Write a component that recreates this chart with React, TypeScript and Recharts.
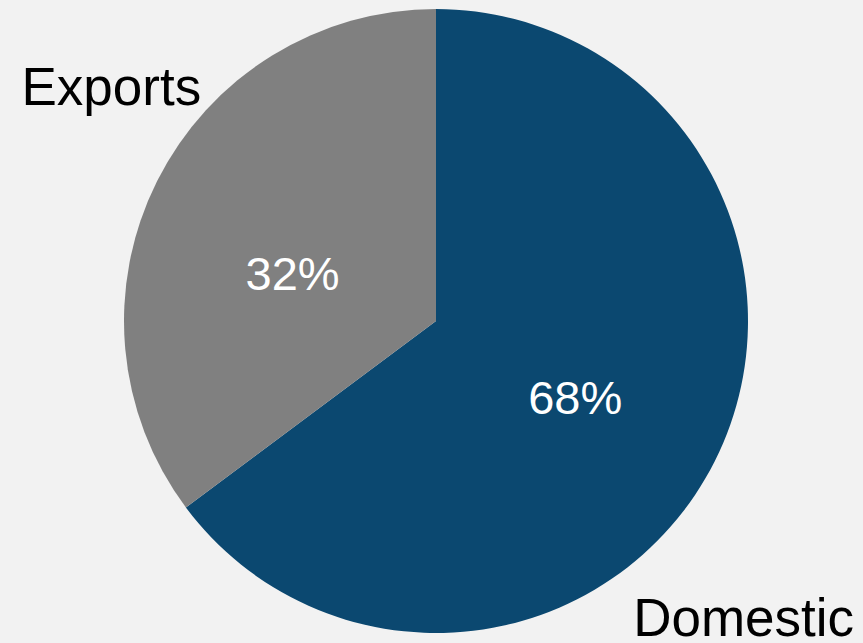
import { PieChart, Pie, Cell } from 'recharts'

// slice sizes as drawn (the printed labels are rounded differently in the source)
const categories = ['Domestic', 'Exports']
const shares = [64.8, 35.2]
const percentLabels = ['68%', '32%']
const colors = ['#0b4870', '#808080']

const RADIAN = Math.PI / 180

// where each slice's texts sit, relative to its mid angle / outer radius
const placement = [
  { nameTurn: -19, nameRadius: 1.41, pctTurn: -7, pctRadius: 0.536 },
  { nameTurn: -7, nameRadius: 1.25, pctTurn: 14.5, pctRadius: 0.47 },
]

const data = categories.map((name, i) => ({ name, value: shares[i] }))

function renderLabel(props: any) {
  const { cx, cy, midAngle, outerRadius, index } = props
  const p = placement[index]
  const polar = (turn: number, factor: number) => {
    const a = (midAngle + turn) * RADIAN
    return { x: cx + outerRadius * factor * Math.cos(-a), y: cy + outerRadius * factor * Math.sin(-a) }
  }
  const name = polar(p.nameTurn, p.nameRadius)
  const pct = polar(p.pctTurn, p.pctRadius)
  return (
    <g>
      <text x={name.x} y={name.y} textAnchor="middle" fill="#000" fontSize={53}>
        {categories[index]}
      </text>
      <text x={pct.x} y={pct.y} textAnchor="middle" fill="#fff" fontSize={47}>
        {percentLabels[index]}
      </text>
    </g>
  )
}

export default function App() {
  return (
    <div
      style={{
        position: 'absolute',
        top: 0,
        left: 0,
        width: 863,
        height: 643,
        background: '#f2f2f2',
        fontFamily: '"Liberation Sans", Arial, sans-serif',
      }}
    >
      <PieChart width={863} height={643} margin={{ top: 0, right: 0, bottom: 0, left: 0 }}>
        <Pie
          data={data}
          dataKey="value"
          nameKey="name"
          cx={436}
          cy={321}
          outerRadius={312}
          startAngle={90}
          endAngle={-270}
          stroke="none"
          label={renderLabel}
          labelLine={false}
          isAnimationActive={false}
        >
          {data.map((d, i) => (
            <Cell key={d.name} fill={colors[i]} />
          ))}
        </Pie>
      </PieChart>
    </div>
  )
}
